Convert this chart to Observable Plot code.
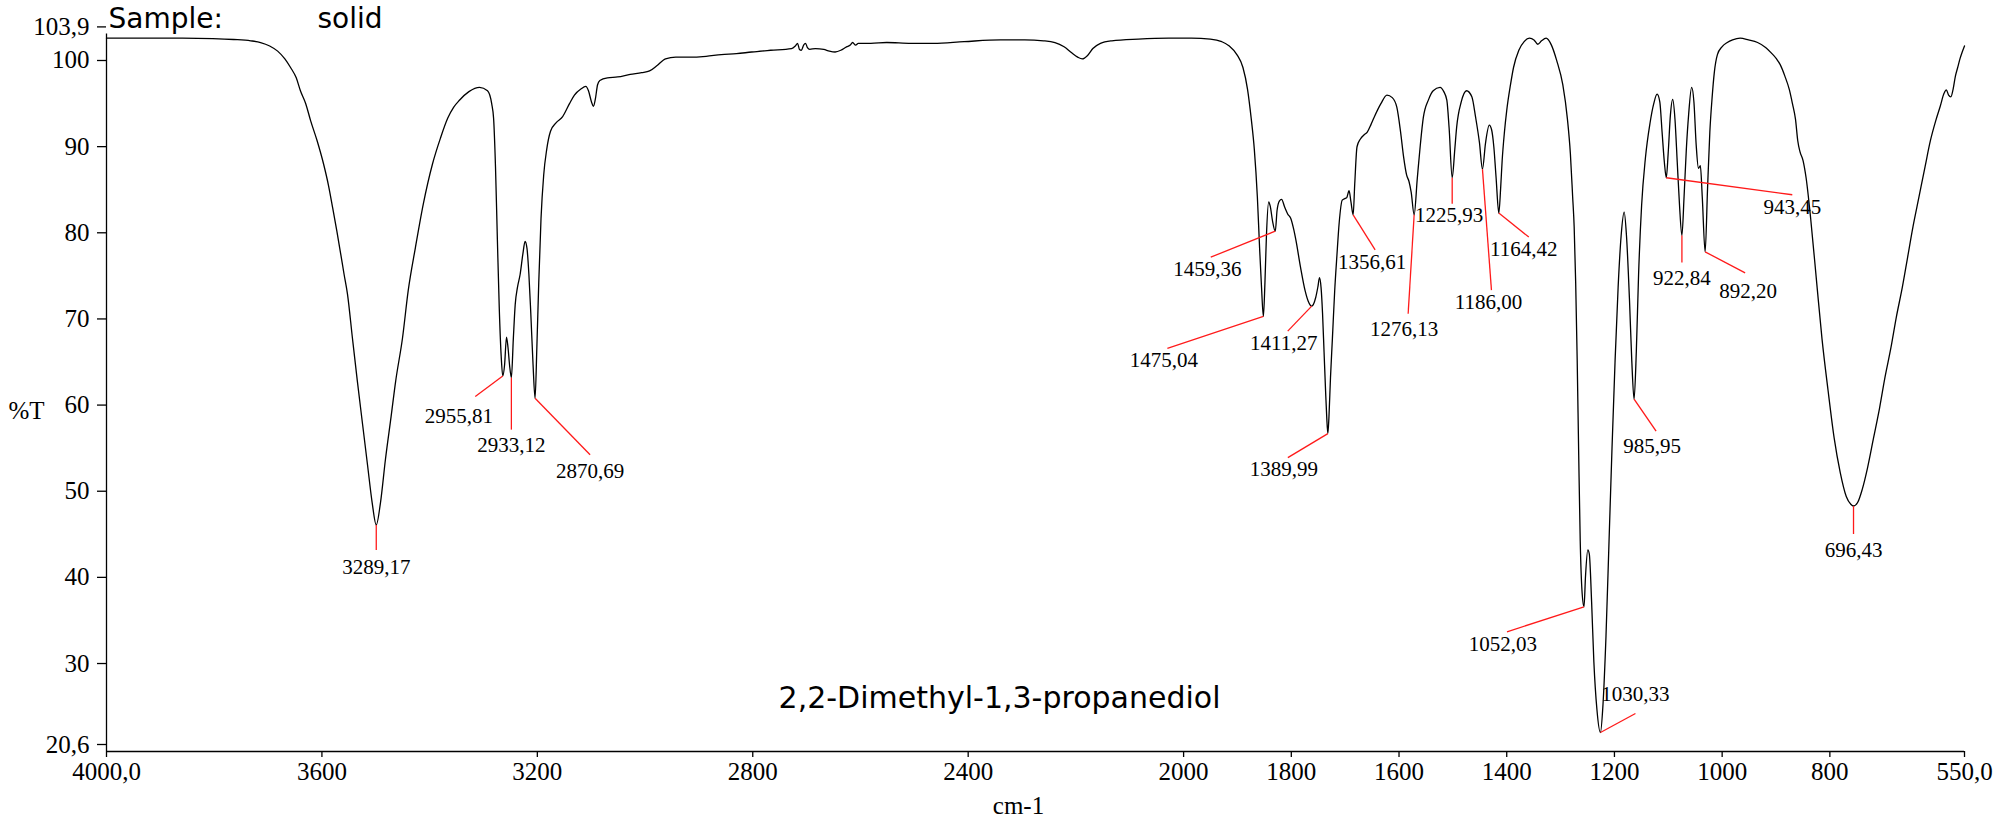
<!DOCTYPE html>
<html><head><meta charset="utf-8">
<script src="https://cdn.jsdelivr.net/npm/d3@7"></script>
<script src="https://cdn.jsdelivr.net/npm/@observablehq/plot@0.6"></script>
<style>html,body{margin:0;padding:0;background:#fff;} #wrap{position:relative;width:1996px;height:825px;} #wrap svg{position:absolute;left:0;top:0;}</style>
</head><body><div id="wrap"></div>
<script>
// ---- data ----
const wavenumber = [4000,3900,3800,3720,3665,3620,3594,3570,3549,3530,3515,3500,3489,3475,3462,3445,3428,3415,3404,3393,3383,3374,3365,3352,3339,3325,3312,3300,3289.17,3278,3265,3250,3238,3220,3205,3186,3165,3141,3120,3101,3085,3070,3045,3017,2996,2985,2980,2975,2970,2965,2960,2955.81,2951,2946,2942,2938,2933.12,2928,2923,2917,2910,2903,2897,2892,2887,2882,2876,2870.69,2866,2861,2855,2848,2840,2830,2815,2798,2780,2767,2750,2737,2730,2722,2717,2712,2706,2700,2680,2653,2620,2590,2569,2550,2527,2500,2466,2420,2380,2340,2300,2250,2195,2185,2179,2174,2169,2163,2158,2153,2147,2132,2110,2095,2080,2065,2050,2040,2034,2026,2019,2005,1993,1972,1940,1910,1870,1822,1790,1765,1750,1738,1728,1720,1714,1707,1700,1690,1675,1640,1600,1570,1545,1530,1520,1510,1502,1496,1491,1487,1483,1480,1477.5,1475.04,1473,1471,1468,1466,1463,1459.36,1457,1454,1451,1447,1443,1439,1435,1432,1426,1420,1416,1411.27,1406,1403,1401,1399,1397,1395,1393,1391.5,1389.99,1388.5,1386.5,1384,1381,1378,1375,1371,1367,1365,1362,1359.5,1356.61,1354.5,1351.5,1347,1342,1338,1333,1329,1320,1312,1305,1299,1294,1290,1286,1283,1280,1276.13,1272,1268,1264,1257,1251,1242,1237,1233,1230,1225.93,1222.5,1220,1214,1207,1200,1195,1190,1186.00,1182,1177,1174,1171,1168,1164.42,1162,1160,1157,1154,1149,1145,1138,1131,1124,1118,1113,1108,1102,1095,1088,1080,1074,1070,1067,1065,1063,1061,1059,1057,1054.5,1052.03,1050,1047,1045,1042,1039,1035,1030.33,1027,1023,1019,1015,1011,1007,1003,999,996,992,989,985.95,983,980,976,971,965,960,955.6,952,949,946,943.45,941,938,935,932,929,926,922.84,920,917,914,910,907,904,901,898.5,896,892.20,889,886,883,880,876,870,863,856,846,835,823,812,805,798,793,787,781,777,773,770,767,763,759,753,745,738,730,722,714,706,700,696.43,691,685,678,670,662,655,647,640,632,625,618,610,602,595,588,582,577,574,571,568,565,562,559,556,553,550];
const transmittance = [103.4,103.4,103.4,103.35,103.25,103.1,102.9,102.5,101.9,101.0,100.0,98.8,97.3,95.8,93.8,91.5,88.8,86.3,83.7,81.0,78.4,76.0,73.7,68.6,63.6,58.5,53.8,49.5,46.9,49.5,54.5,59.5,63.6,68.6,74.1,79.1,84.2,88.8,91.8,94.1,95.4,96.2,97.2,97.7,97.3,95.8,94.1,88.5,80.0,72.0,66.5,64.2,65.5,68.7,67.5,65.5,64.0,68.5,72.5,74.5,76.0,78.3,79.8,79.0,76.0,71.5,65.5,61.6,67.5,75.0,82.5,87.5,90.5,92.6,93.6,94.3,95.8,96.8,97.5,97.8,97.3,96.0,95.5,96.3,98.0,98.5,98.8,98.9,99.2,99.4,99.6,100.2,101.0,101.2,101.2,101.3,101.5,101.6,101.8,102.0,102.2,102.5,102.8,102.1,102.0,102.6,102.8,102.3,102.1,102.2,102.1,101.9,101.8,102.0,102.4,102.6,102.9,102.6,102.8,102.8,102.8,102.9,102.8,102.8,103.0,103.2,103.2,103.1,102.9,102.4,101.7,101.2,101.0,101.4,102.2,102.8,103.1,103.3,103.4,103.4,103.3,103.0,102.5,101.5,100.0,97.5,94.0,90.5,85.0,79.0,74.5,71.1,75.0,80.5,84.4,83.9,82.2,81.0,83.4,84.5,84.7,83.8,83.0,82.5,81.2,79.9,76.8,74.1,72.9,72.3,73.3,74.6,75.6,74.5,71.5,67.0,62.5,59.5,57.5,59.5,64.0,68.5,74.0,78.2,82.0,84.6,84.8,84.9,85.7,84.4,82.9,86.5,90.8,91.7,92.2,92.5,93.4,94.2,95.8,96.8,96.5,95.4,92.5,89.6,87.5,86.8,85.5,82.9,87.1,91.0,94.2,96.3,97.3,97.7,97.2,96.2,93.0,87.2,90.5,93.1,96.0,97.3,96.6,94.2,91.3,88.2,91.2,93.3,92.8,90.8,87.2,83.1,86.0,89.2,92.5,95.0,98.0,100.0,102.0,103.0,103.4,103.2,102.7,103.1,103.4,102.6,100.8,98.0,94.1,90.0,85.0,81.5,75.0,66.0,55.0,45.0,39.0,37.4,41.0,44.0,43.5,38.0,31.0,25.5,22.8,26.0,34.0,45.0,56.0,66.0,74.5,80.5,83.2,80.5,73.0,66.0,61.5,67.0,76.0,84.0,89.5,93.5,95.8,96.9,96.0,92.5,89.0,87.2,90.0,94.5,96.3,94.0,89.0,84.0,80.5,85.0,90.5,94.5,97.7,96.0,91.0,88.3,88.6,85.0,78.6,86.0,92.5,96.5,99.5,101.5,102.4,102.9,103.2,103.4,103.2,102.9,102.3,101.7,101.0,100.3,99.0,97.4,95.8,94.0,91.5,90.2,89.2,87.2,82.5,75.0,68.5,62.5,57.0,53.0,50.2,49.3,49.1,49.5,51.0,53.5,57.0,60.5,64.0,67.5,71.0,74.5,78.0,81.5,85.0,88.5,91.5,93.8,95.5,97.0,97.4,96.8,96.6,97.5,99.0,100.0,101.0,101.8,102.5];

const peakWn = [3289.17,2955.81,2933.12,2870.69,1475.04,1459.36,1411.27,1389.99,1356.61,1276.13,1225.93,1186.00,1164.42,1052.03,1030.33,985.95,943.45,922.84,892.20,696.43];
const peakT = [46.9,64.2,64.0,61.6,71.1,81.0,72.3,57.5,82.9,82.9,87.2,88.2,83.1,37.4,22.8,61.5,87.2,80.5,78.6,49.1];
const peakText = ["3289,17","2955,81","2933,12","2870,69","1475,04","1459,36","1411,27","1389,99","1356,61","1276,13","1225,93","1186,00","1164,42","1052,03","1030,33","985,95","943,45","922,84","892,20","696,43"];

const xTicks = [4000,3600,3200,2800,2400,2000,1800,1600,1400,1200,1000,800,550];
const xTickText = ["4000,0","3600","3200","2800","2400","2000","1800","1600","1400","1200","1000","800","550,0"];
const yTicks = [103.9,100,90,80,70,60,50,40,30,20.6];
const yTickText = ["103,9","100","90","80","70","60","50","40","30","20,6"];

const sampleLabel = "Sample:";
const sampleState = "solid";
const compoundName = "2,2-Dimethyl-1,3-propanediol";
const yLabel = "%T";
const xLabel = "cm-1";

// ---- layout (pixels) ----
// leader-line end and text centre offsets from each peak: [lineDx, lineDy, textDx, textDy]
const labelOffsets = [[0,25,0,42],[-27.5,20.5,-44,40.5],[0,52,0,68],[55,56.5,55,73],[-96,32,-99.5,44],[-64.5,26,-68,38],[-24,25,-28,37.6],[-40,24,-44,36],[22,35,19,47],[-6,99,-10,114],[0,26,-3,38],[9,121,6,133],[30,24,25,36],[-77,25,-81,37],[35,-19,35,-38],[22,32,18,47],[126,17,126,30],[0,27,0,43],[40,21,43,39],[0,28,0,44]];

const W = 1996, H = 825;
const M = {top: 33.4, right: 32, bottom: 74, left: 106};
const xBreakPx = 865;
const yScale = {type: "linear", domain: [20.6, 103.9], range: [H - M.bottom, M.top]};
const xAxisScale = {type: "linear", domain: [4000, 550], range: [M.left, W - M.right]};
const xDataScale = {type: "linear", domain: [4000, 2000, 550], range: [M.left, xBreakPx, W - M.right]};

const spectrum = wavenumber.map((wn, i) => ({wn, t: transmittance[i]}));
// same piecewise mapping as the data layer's x scale, used to place label anchors
const xs = d3.scaleLinear().domain(xDataScale.domain).range(xDataScale.range);
const ys = d3.scaleLinear().domain(yScale.domain).range(yScale.range);
const peaks = peakWn.map((wn, i) => {
  const px = xs(wn), py = ys(peakT[i]);
  const [ldx, ldy, tdx, tdy] = labelOffsets[i];
  return {wn, t: peakT[i], label: peakText[i],
    lx: xs.invert(px + ldx), ly: ys.invert(py + ldy),
    tx: xs.invert(px + tdx), ty: ys.invert(py + tdy)};
});

const serif = "Liberation Serif, Times New Roman, serif";
const sans = "DejaVu Sans, sans-serif";

const axes = Plot.plot({
  width: W, height: H,
  marginTop: M.top, marginRight: M.right, marginBottom: M.bottom, marginLeft: M.left,
  x: xAxisScale,
  y: yScale,
  style: {background: "white", fontFamily: serif, fontSize: "25px", color: "black"},
  marks: [
    Plot.ruleX([4000], {stroke: "black", strokeWidth: 1.3}),
    Plot.ruleY([20.6], {stroke: "black", strokeWidth: 1.3}),
    Plot.axisY({ticks: yTicks, tickFormat: d => yTickText[yTicks.indexOf(d)], tickSize: 9, tickPadding: 8, dy: -7, label: null, stroke: "black", strokeWidth: 1.3, fontSize: 25, fontFamily: serif}),
    Plot.axisX({ticks: xTicks, tickFormat: d => xTickText[xTicks.indexOf(d)], tickSize: 6, tickPadding: 5, label: null, stroke: "black", strokeWidth: 1.3, fontSize: 25, fontFamily: serif}),
    Plot.text([yLabel], {text: d => d, frameAnchor: "left", lineAnchor: "middle", dx: -98, dy: 18, fontFamily: serif, fontSize: 25}),
    Plot.text([xLabel], {text: d => d, frameAnchor: "bottom", lineAnchor: "middle", dx: -17, dy: 54, fontFamily: serif, fontSize: 25}),
    Plot.text([sampleLabel], {text: d => d, frameAnchor: "top-left", lineAnchor: "middle", textAnchor: "start", dx: 2, dy: -15, fontFamily: sans, fontSize: 28}),
    Plot.text([sampleState], {text: d => d, frameAnchor: "top-left", lineAnchor: "middle", textAnchor: "start", dx: 211, dy: -15, fontFamily: sans, fontSize: 28}),
    Plot.text([compoundName], {text: d => d, frameAnchor: "bottom", lineAnchor: "middle", dx: -36, dy: -53, fontFamily: sans, fontSize: 30})
  ]
});

const dataLayer = Plot.plot({
  width: W, height: H,
  marginTop: M.top, marginRight: M.right, marginBottom: M.bottom, marginLeft: M.left,
  x: {...xDataScale, axis: null},
  y: {...yScale, axis: null},
  style: {background: "transparent", fontFamily: serif},
  marks: [
    Plot.line(spectrum, {x: "wn", y: "t", stroke: "black", strokeWidth: 1.3, curve: "monotone-x"}),
    Plot.link(peaks, {x1: "wn", y1: "t", x2: "lx", y2: "ly", stroke: "#ff1a1a", strokeWidth: 1.3}),
    Plot.text(peaks, {x: "tx", y: "ty", text: "label", lineAnchor: "middle", fontFamily: serif, fontSize: 21, fill: "black"})
  ]
});

const wrap = document.getElementById("wrap");
wrap.appendChild(axes);
wrap.appendChild(dataLayer);
</script>
</body></html>
